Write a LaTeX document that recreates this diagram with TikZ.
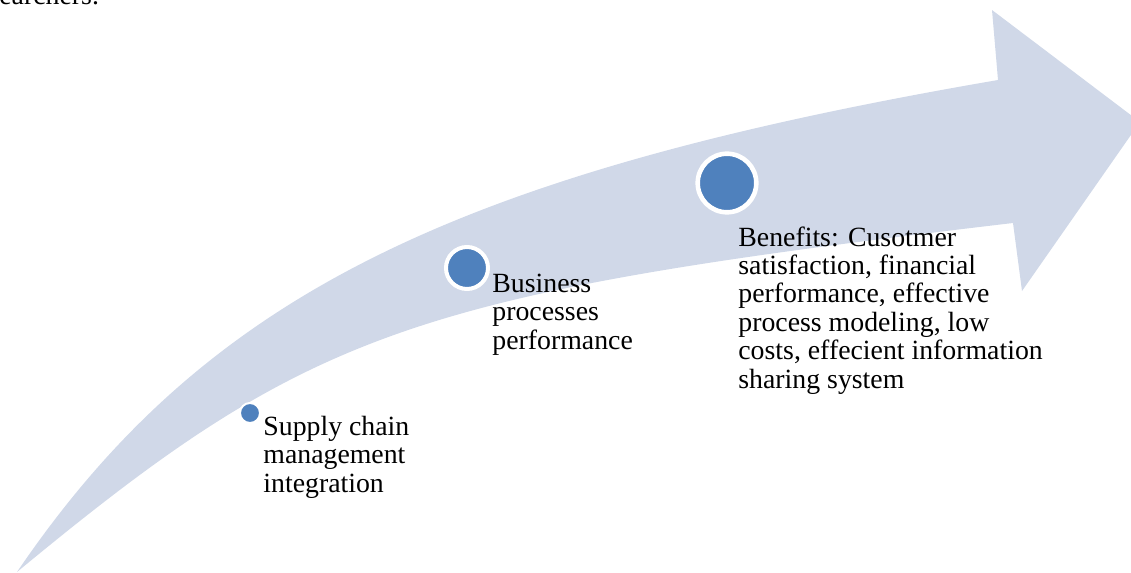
\documentclass[tikz,border=0pt]{standalone}
\usepackage{fontspec}
\setmainfont{Liberation Serif}
\definecolor{bandfill}{HTML}{D0D8E8}
\definecolor{dotblue}{HTML}{4F81BD}

\begin{document}
\begin{tikzpicture}[x=0.5pt,y=-0.5pt,
    dot/.style={circle,fill=dotblue,draw=white,inner sep=0pt},
    lbl/.style={anchor=base west,align=left,inner sep=0pt,
      font=\fontsize{13.9}{14.2}\selectfont}]
  \useasboundingbox (0,0) rectangle (1131,573);
  \clip (0,0) rectangle (1131,573);
  % curved band with its head
  \fill[bandfill] (17,572) .. controls (204,297) and (450,174) .. (998,80)
    -- (992,10) -- (1140,122) -- (1022,291) -- (1013,223)
    .. controls (411,294) and (311,329) .. (17,572) -- cycle;
  % end of the line above
  \node[lbl] (prev) at (-1,4) {earchers.};
  \draw
    (250,413) node[dot,minimum size=10pt,line width=1pt] (p1){}
    (467,268) node[dot,minimum size=21pt,line width=2pt] (p2){}
    (727,183) node[dot,minimum size=29.3pt,line width=2.3pt] (p3){};
  % base anchor sits on the last line
  \node[lbl] (t1) at (263,492) {Supply chain\\management\\integration};
  \node[lbl] (t2) at (492,349) {Business\\processes\\performance};
  \node[lbl] (t3) at (738,388) {Benefits: Cusotmer\\satisfaction, financial\\performance, effective\\process modeling, low\\costs, effecient information\\sharing system};
\end{tikzpicture}
\end{document}
